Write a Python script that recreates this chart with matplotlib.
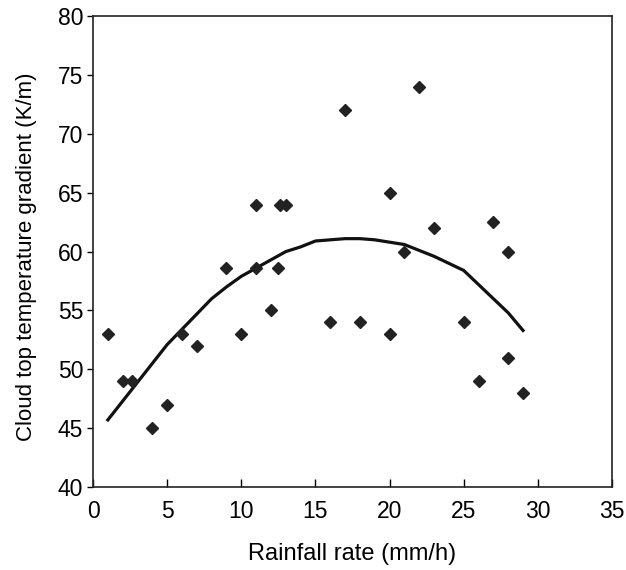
import numpy as np
import matplotlib
matplotlib.use("Agg")
import matplotlib.pyplot as plt

plt.rcParams['font.family'] = ['Liberation Sans', 'DejaVu Sans']

# observed points
rain_obs = [1, 2, 2.6, 4, 5, 6, 7, 9, 10, 11, 11, 12, 12.6, 13, 12.5,
            16, 17, 18, 20, 20, 21, 22, 23, 25, 26, 27, 28, 28, 29]
grad_obs = [53, 49, 49, 45, 47, 53, 52, 58.6, 53, 64, 58.6, 55, 64, 64, 58.6,
            54, 72, 54, 65, 53, 60, 74, 62, 54, 49, 62.5, 60, 51, 48]

# fitted curve
rain_fit = list(range(1, 30))
grad_fit = [45.7, 47.3, 48.9, 50.5, 52.1, 53.4, 54.7, 56.0, 57.0, 57.9,
            58.6, 59.3, 60.0, 60.4, 60.9, 61.0, 61.1, 61.1, 61.0, 60.8,
            60.6, 60.1, 59.6, 59.0, 58.4, 57.2, 56.0, 54.8, 53.3]

fig = plt.figure(figsize=(6.26, 5.70), dpi=100)
ax = fig.add_axes([0.1486, 0.1456, 0.829, 0.826])

ax.plot(rain_fit, grad_fit, color='#111111', lw=2.3, zorder=2)
ax.plot(rain_obs, grad_obs, linestyle='none', marker='D', markersize=6,
        color='#222222', zorder=3)

ax.set_xlim(0, 35)
ax.set_ylim(40, 80)
ax.set_xticks(np.arange(0, 36, 5))
ax.set_yticks(np.arange(40, 81, 5))
ax.tick_params(axis='x', direction='in', length=6, width=1, labelsize=16.5, pad=9)
ax.tick_params(axis='y', direction='out', length=4, width=1, labelsize=16.5, pad=3)
for s in ax.spines.values():
    s.set_linewidth(1.2)
    s.set_color('#222222')

ax.set_xlabel('Rainfall rate (mm/h)', fontsize=17)
ax.set_ylabel('Cloud top temperature gradient (K/m)', fontsize=16)
ax.xaxis.set_label_coords(0.5, -0.119)
ax.yaxis.set_label_coords(-0.108, 0.49)

fig.savefig('out.png', dpi=100)
